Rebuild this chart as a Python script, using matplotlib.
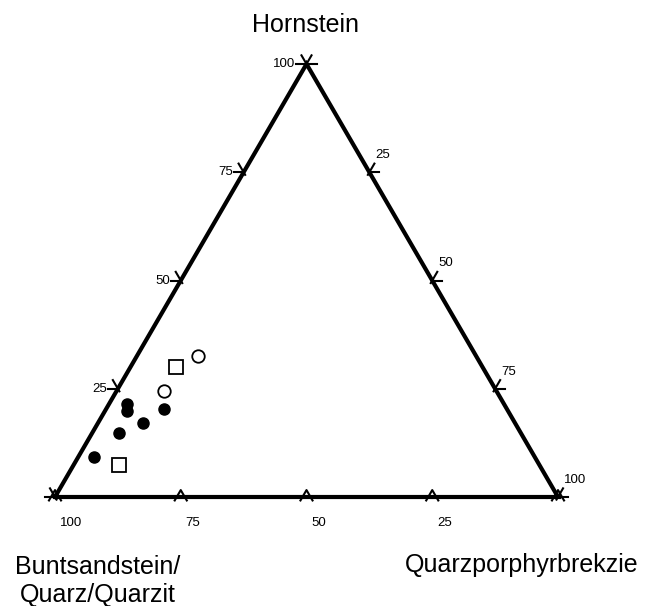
import numpy as np
import matplotlib.pyplot as plt

plt.rcParams['font.family'] = ['Liberation Sans', 'DejaVu Sans']

# ternary data in percent: Buntsandstein (B), Quarzporphyrbrekzie (Q), Hornstein (H)
filled_B = [75.0, 75.8, 68.1, 73.9, 79.9, 87.6]
filled_Q = [3.5, 4.3, 11.5, 9.0, 5.3, 3.2]
filled_H = [21.5, 19.9, 20.4, 17.1, 14.8, 9.2]

open_B = [55.2, 66.1]
open_Q = [12.2, 9.5]
open_H = [32.6, 24.4]

square_B = [60.9, 83.6]
square_Q = [9.0, 9.1]
square_H = [30.1, 7.3]

tick_vals = [0, 25, 50, 75, 100]
tick_labels = ['', '25', '50', '75', '100']

S3 = np.sqrt(3) / 2


def tern(q, h):
    q = np.asarray(q) / 100.0
    h = np.asarray(h) / 100.0
    return q + h / 2, h * S3


fig = plt.figure(figsize=(6.55, 6.06), dpi=100)
ax = fig.add_axes([55 / 655, 109 / 606, 503 / 655, 433 / 606])
ax.set_xlim(0, 1)
ax.set_ylim(0, S3)
ax.axis('off')

# triangle
tx, ty = tern([0, 100, 0, 0], [0, 0, 100, 0])
ax.plot(tx, ty, color='black', lw=3, solid_joinstyle='miter', clip_on=False)

L = 0.02
c60, s60 = 0.5, S3
kw = dict(color='black', lw=1.5, clip_on=False)

for v, lab in zip(tick_vals, tick_labels):
    # bottom axis: Buntsandstein, 100 at left
    x, y = tern(100 - v, 0)
    ax.plot([x - 0.6 * L, x, x + 0.6 * L],
            [y - 0.4 * L * s60, y + 0.8 * L * s60, y - 0.4 * L * s60], **kw)
    # left axis: Hornstein
    x, y = tern(0, v)
    ax.plot([x - L, x], [y, y], **kw)
    ax.plot([x + 0.3 * L * c60, x - L * c60], [y - 0.3 * L * s60, y + L * s60], **kw)
    if lab:
        ax.annotate(lab, (x, y), xytext=(-11, 0), textcoords='offset pixels',
                    ha='right', va='center', fontsize=9.5)
    # right axis: Quarzporphyrbrekzie
    x, y = tern(v, 100 - v)
    ax.plot([x, x + L], [y, y], **kw)
    ax.plot([x - 0.3 * L * c60, x + L * c60], [y - 0.3 * L * s60, y + L * s60], **kw)
    if lab:
        ax.annotate(lab, (x, y), xytext=(6, 17), textcoords='offset pixels',
                    ha='left', va='center', fontsize=9.5)

for lab in tick_labels:
    if lab:
        x, y = tern(100 - float(lab), 0)
        ax.annotate(lab, (x, y), xytext=(5, -26), textcoords='offset pixels',
                    ha='left', va='center', fontsize=9.5)

# samples
x, y = tern(filled_Q, filled_H)
ax.plot(x, y, 'o', ms=8, color='black', clip_on=False)
x, y = tern(open_Q, open_H)
ax.plot(x, y, 'o', ms=9, mfc='white', mec='black', mew=1.3, clip_on=False)
x, y = tern(square_Q, square_H)
ax.plot(x, y, 's', ms=10, mfc='white', mec='black', mew=1.3, clip_on=False)

# end member names
fig.text(306 / 655, 1 - 25 / 606, 'Hornstein', ha='center', va='center', fontsize=18)
fig.text(98 / 655, 1 - 581 / 606, 'Buntsandstein/\nQuarz/Quarzit', ha='center',
         va='center', fontsize=18, linespacing=1.2)
fig.text(522 / 655, 1 - 565 / 606, 'Quarzporphyrbrekzie', ha='center', va='center',
         fontsize=18)

fig.savefig('out.png', dpi=100)
